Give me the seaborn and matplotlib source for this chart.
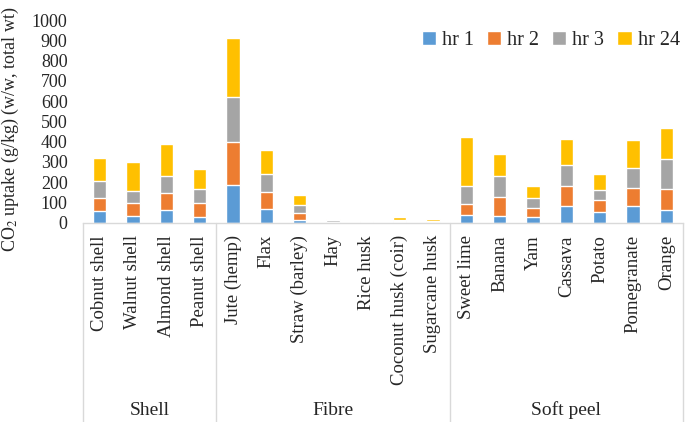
import numpy as np
import pandas as pd
import matplotlib
matplotlib.use("Agg")
import matplotlib.pyplot as plt
import matplotlib.transforms as mtransforms
from matplotlib.patches import Patch
import seaborn as sns

# data (cumulative heights converted back to layers)
materials = ["Cobnut shell", "Walnut shell", "Almond shell", "Peanut shell",
             "Jute (hemp)", "Flax", "Straw (barley)", "Hay", "Rice husk",
             "Coconut husk (coir)", "Sugarcane husk",
             "Sweet lime", "Banana", "Yam", "Cassava", "Potato", "Pomegranate", "Orange"]
groups = ["Shell", "Fibre", "Soft peel"]
group_sizes = [4, 7, 7]

hr1 = [56, 31, 64, 26, 183, 68, 10, 2, 1, 2, 1, 36, 30, 26, 82, 53, 82, 63]
hr2 = [66, 63, 83, 68, 216, 84, 38, 3, 2, 5, 3, 56, 95, 45, 99, 57, 86, 103]
hr3 = [82, 64, 84, 71, 219, 89, 38, 5, 2, 6, 3, 86, 104, 51, 104, 51, 102, 149]
hr24 = [114, 143, 156, 99, 295, 116, 49, 6, 3, 13, 9, 244, 109, 56, 127, 78, 137, 153]

series = ["hr 1", "hr 2", "hr 3", "hr 24"]
colors = ["#5B9BD5", "#ED7D31", "#A5A5A5", "#FFC000"]

df = pd.DataFrame({"material": materials, "hr 1": hr1, "hr 2": hr2,
                   "hr 3": hr3, "hr 24": hr24})
cum = df[series].cumsum(axis=1)

sns.set_style("white")
plt.rcParams["font.family"] = ["Liberation Serif", "DejaVu Serif"]
plt.rcParams["mathtext.fontset"] = "stix"

fig = plt.figure(figsize=(6.85, 4.22), dpi=100)
ax = fig.add_axes([0.121, 0.4727, 0.876, 0.4799])

# stacked bars: draw totals first, then smaller cumulative sums on top
for s, c in reversed(list(zip(series, colors))):
    sns.barplot(x=df["material"], y=cum[s], color=c, width=0.4,
                saturation=1, ax=ax, zorder=2)

ax.set_ylim(0, 1000)
ax.set_yticks(range(0, 1001, 100))
ax.set_xlim(-0.5, len(materials) - 0.5)
ax.set_xlabel("")
ax.set_ylabel("CO$_2$ uptake (g/kg) (w/w, total wt)", fontsize=13)
ax.yaxis.set_label_coords(-0.103, 0.46)

for sp in ["top", "right", "left"]:
    ax.spines[sp].set_visible(False)
ax.spines["bottom"].set_color("#D9D9D9")
ax.spines["bottom"].set_linewidth(1)

ax.tick_params(axis="y", length=0, pad=11, labelsize=13)
ax.tick_params(axis="x", length=0, pad=9, labelsize=13.5)
plt.setp(ax.get_xticklabels(), rotation=90, va="top", ha="center")

# group separators and group names below the category labels
trans = mtransforms.blended_transform_factory(ax.transData, fig.transFigure)
edges = np.concatenate([[0], np.cumsum(group_sizes)]) - 0.5
for e in edges:
    ax.plot([e, e], [0.4727, 0.0], transform=trans, color="#D9D9D9",
            lw=1, clip_on=False)
for g, a, b in zip(groups, edges[:-1], edges[1:]):
    fig.text((a + b) / 2, 0.028, g, transform=trans, ha="center",
             va="center", fontsize=14)

handles = [Patch(facecolor=c, label=s) for s, c in zip(series, colors)]
ax.legend(handles=handles, loc="center right", ncol=4, frameon=False,
          bbox_to_anchor=(1.004, 0.903), bbox_transform=fig.transFigure,
          borderaxespad=0, fontsize=14.5, handlelength=0.7, handleheight=0.7,
          handletextpad=0.3, columnspacing=0.65)

fig.savefig("out.png", dpi=100)
